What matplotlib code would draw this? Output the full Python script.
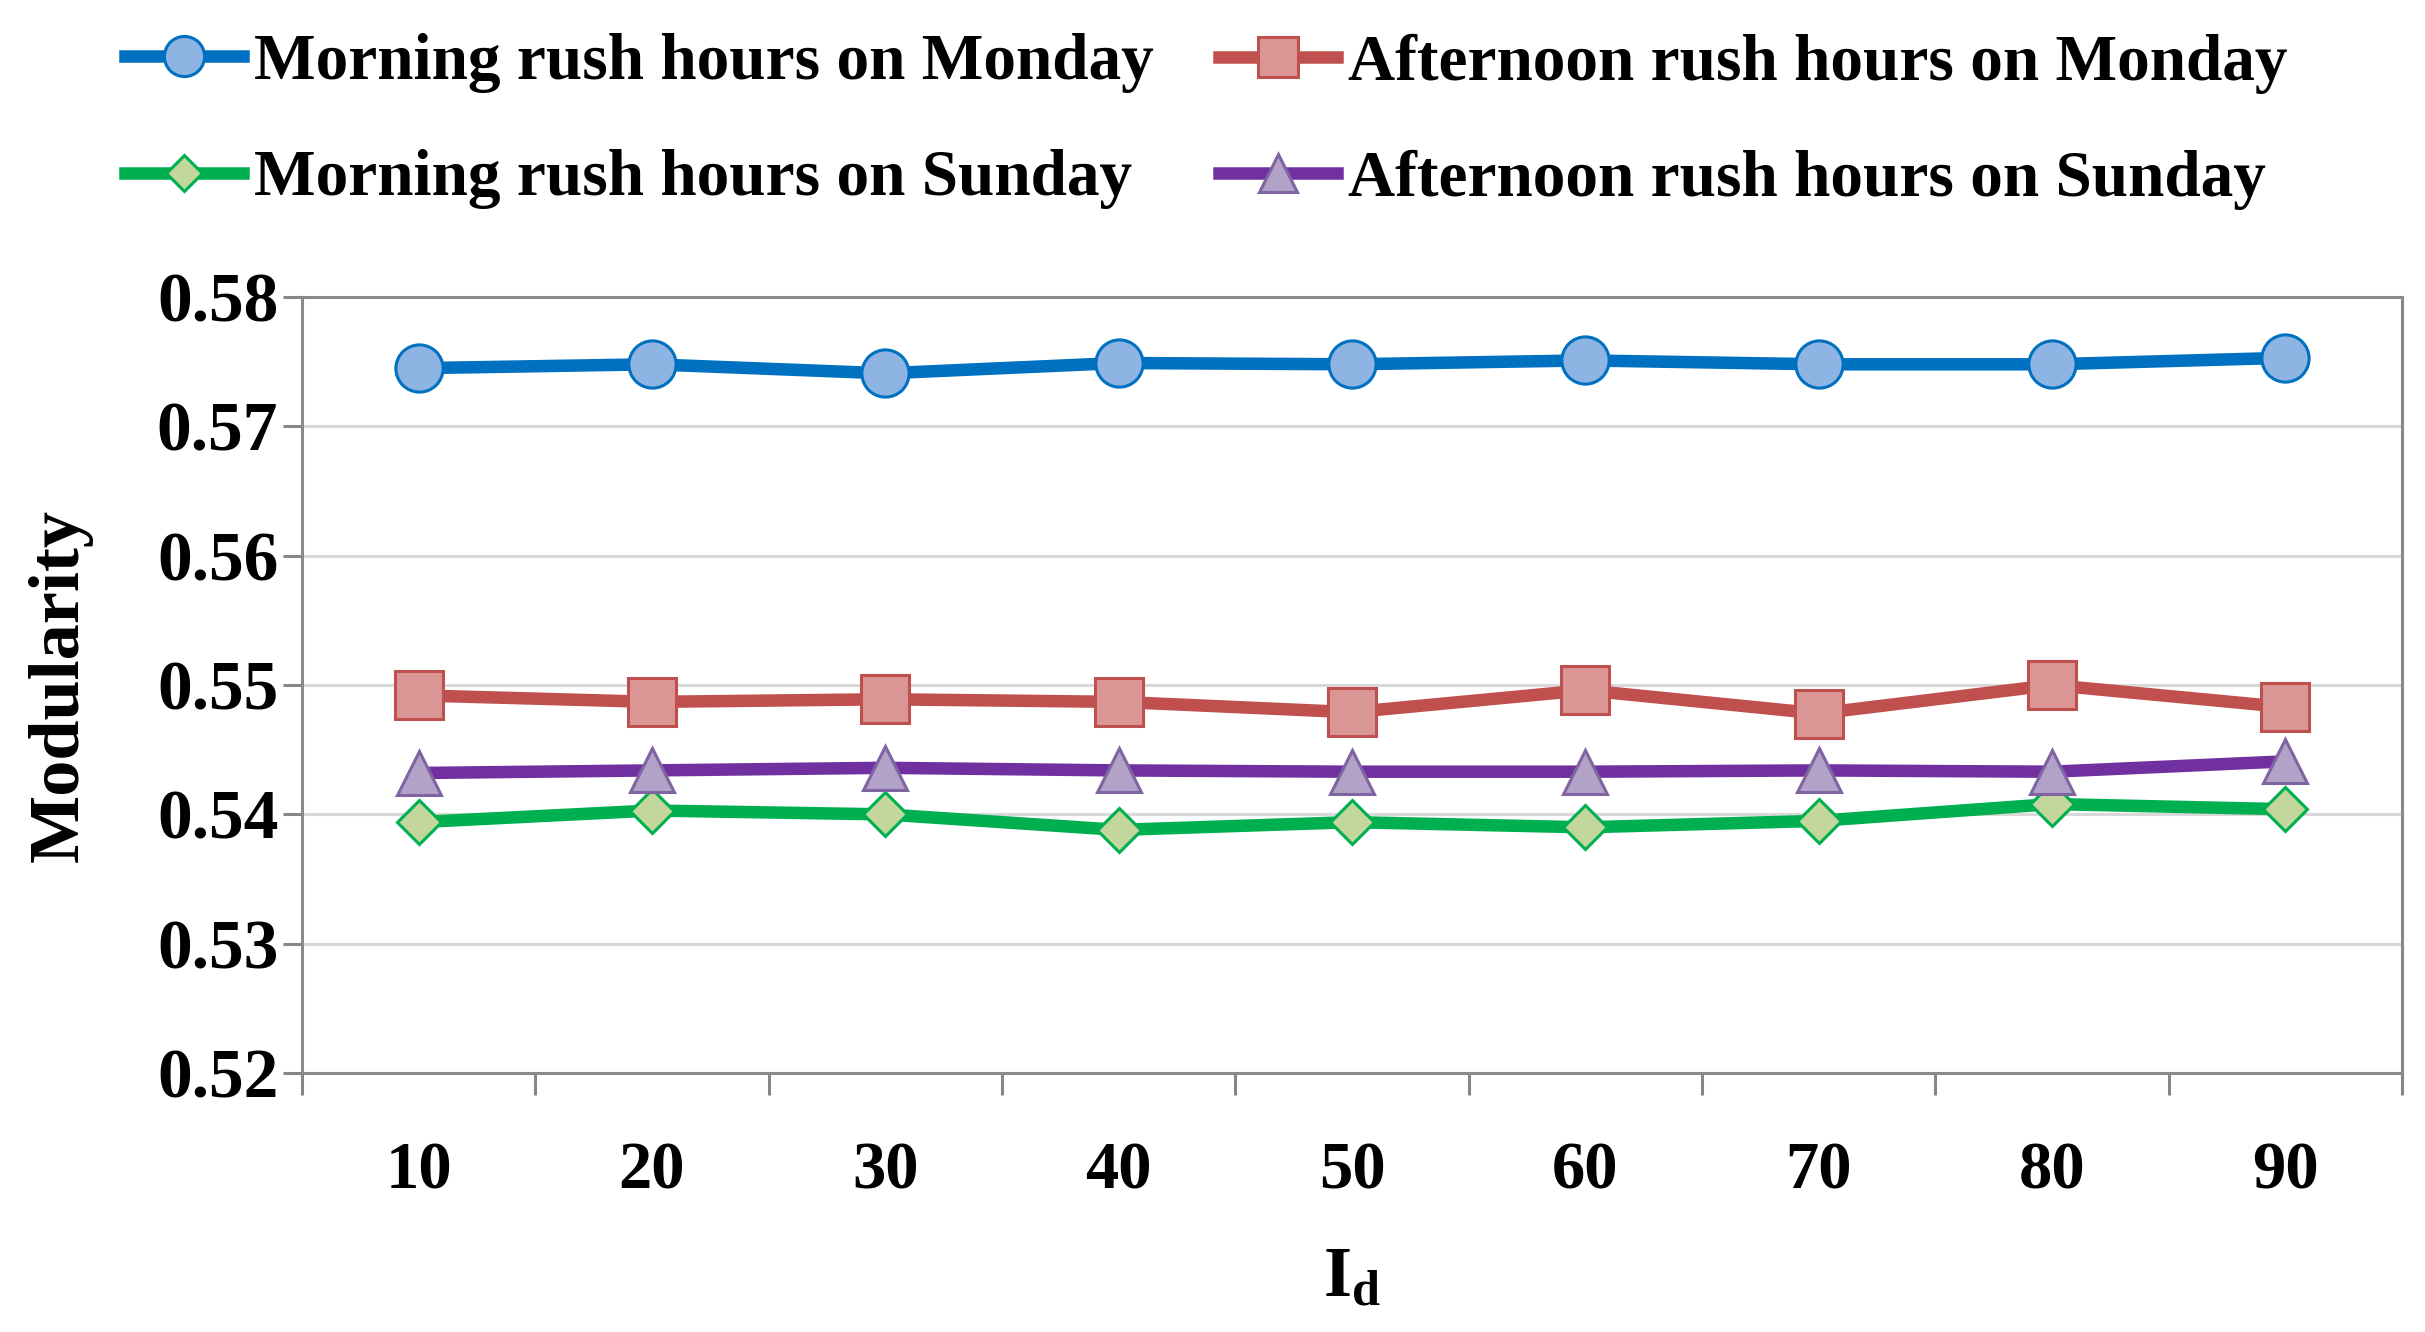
import matplotlib.pyplot as plt
import numpy as np

plt.rcParams['font.family'] = ['Liberation Serif', 'DejaVu Serif']
plt.rcParams['font.weight'] = 'bold'
plt.rcParams['mathtext.fontset'] = 'custom'
plt.rcParams['mathtext.rm'] = 'Liberation Serif'
plt.rcParams['mathtext.bf'] = 'Liberation Serif:bold'

# data
id_values = ['10', '20', '30', '40', '50', '60', '70', '80', '90']
morning_monday = [0.5745, 0.5748, 0.5741, 0.5749, 0.5748, 0.5751, 0.5748, 0.5748, 0.5753]
afternoon_monday = [0.5492, 0.5487, 0.5489, 0.5487, 0.5479, 0.5496, 0.5478, 0.5500, 0.5483]
morning_sunday = [0.5394, 0.5403, 0.5400, 0.5388, 0.5394, 0.5390, 0.5395, 0.5408, 0.5404]
afternoon_sunday = [0.5432, 0.5434, 0.5436, 0.5434, 0.5433, 0.5433, 0.5434, 0.5433, 0.5441]

fig = plt.figure(figsize=(24.25, 13.32), dpi=100)
ax = fig.add_axes([0.1245, 0.1944, 0.866, 0.5826])

x = np.arange(1, len(id_values) + 1)

lw = 9
mew = 2.2
l1, = ax.plot(x, morning_monday, color='#0070C0', lw=lw, marker='o', ms=34,
              mfc='#8EB4E3', mec='#0070C0', mew=mew, label='Morning rush hours on Monday')
l2, = ax.plot(x, afternoon_monday, color='#C0504D', lw=lw, marker='s', ms=34,
              mfc='#D99694', mec='#C0504D', mew=mew, label='Afternoon rush hours on Monday')
l3, = ax.plot(x, morning_sunday, color='#00B050', lw=lw, marker='D', ms=22,
              mfc='#C3D69B', mec='#00B050', mew=mew, label='Morning rush hours on Sunday')
l4, = ax.plot(x, afternoon_sunday, color='#7030A0', lw=lw, marker='^', ms=32,
              mfc='#B3A2C7', mec='#8064A2', mew=mew, label='Afternoon rush hours on Sunday')

ax.set_xlim(0.5, len(id_values) + 0.5)
ax.set_ylim(0.52, 0.58)
ax.set_yticks(np.arange(0.52, 0.5801, 0.01))
ax.set_yticklabels(['%.2f' % v for v in np.arange(0.52, 0.5801, 0.01)])
ax.set_xticks(x)
ax.set_xticklabels(id_values)
ax.set_xticks(np.arange(0.5, len(id_values) + 1, 1), minor=True)

ax.tick_params(axis='x', which='major', length=0, pad=49, labelsize=48)
ax.tick_params(axis='x', which='minor', length=16, width=2.2, color='#868686')
ax.tick_params(axis='y', length=14, width=2.2, color='#868686', pad=3, labelsize=50)

ax.yaxis.grid(True, color='#D9D9D9', lw=2.2)
ax.set_axisbelow(True)
for s in ax.spines.values():
    s.set_color('#898989')
    s.set_linewidth(2.2)

ax.set_ylabel('Modularity', fontsize=52, fontweight='bold', labelpad=46)
ax.set_xlabel(r'$\mathbf{I_d}$', fontsize=52, labelpad=32)

leg_kw = dict(loc='upper left', fontsize=47, frameon=False, markerscale=0.85,
              handlelength=1.8, handletextpad=0.17, labelspacing=0.86, borderaxespad=0,
              borderpad=0)
leg1 = fig.legend(handles=[l1, l3], bbox_to_anchor=(125 / 2425, 0.975), **leg_kw)
leg2 = fig.legend(handles=[l2, l4], bbox_to_anchor=(1219 / 2425, 0.975), **leg_kw)

fig.savefig('out.png', dpi=100)
